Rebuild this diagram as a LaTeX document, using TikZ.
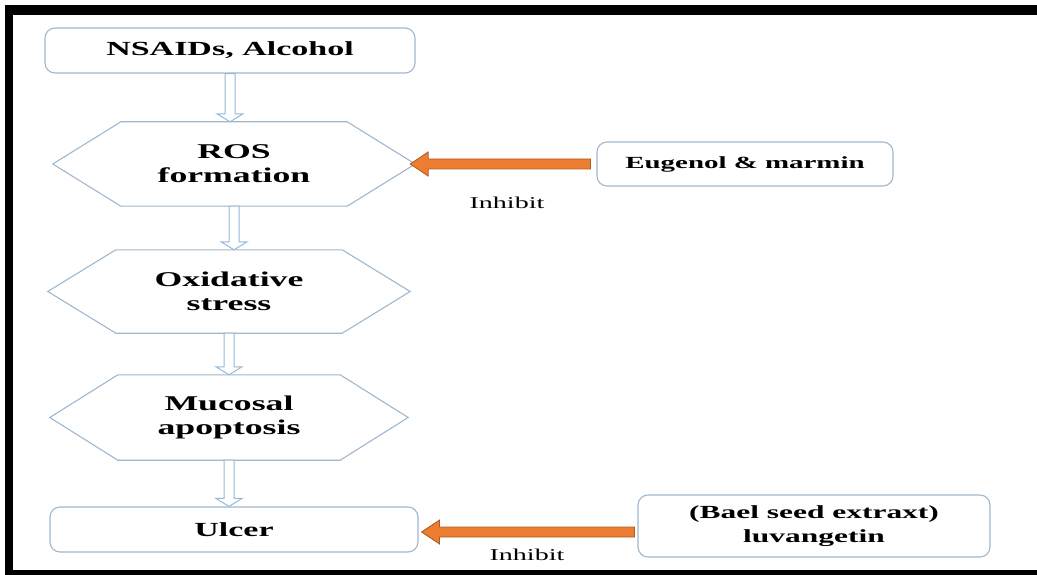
\documentclass[tikz,border=0pt]{standalone}
\usepackage{fontspec}
\setmainfont{Liberation Serif}[FakeStretch=1.7]
\usetikzlibrary{calc}
\definecolor{boxline}{RGB}{160,184,206}
\definecolor{flowline}{RGB}{150,185,215}
\definecolor{inhibitfill}{RGB}{237,125,49}
\definecolor{inhibitline}{RGB}{175,90,35}
\tikzset{
  roundbox/.style={draw=boxline, line width=1.1pt, rounded corners=10pt, fill=white,
    align=center, font=\fontsize{20}{25}\selectfont\bfseries, inner sep=0pt},
  hexbox/.style={align=center, font=\fontsize{21}{24}\selectfont\bfseries, inner sep=0pt},
  hexline/.style={draw=boxline, line width=1.1pt, fill=white},
  flowarrow/.style={draw=flowline, line width=1pt, fill=white, line join=miter},
  inhibitarrow/.style={draw=inhibitline, line width=0.8pt, fill=inhibitfill},
  inhibitlabel/.style={font=\fontsize{16.5}{20}\selectfont, inner sep=0pt},
  frame/.style={fill=black}
}
% hexagon outline around a node: #1 node, #2 horizontal inset of the slanted sides
\newcommand\hexaround[2]{%
  \path[hexline] (#1.west) -- ($(#1.north west)+(#2,0)$) -- ($(#1.north east)-(#2,0)$)
    -- (#1.east) -- ($(#1.south east)-(#2,0)$) -- ($(#1.south west)+(#2,0)$) -- cycle;}
% hollow downward block arrow from the bottom of #1 to the top of #2
\newcommand\flowdown[2]{%
  \path let \p1=(#1.south), \p2=(#2.north) in
    [flowarrow] (\x1-5pt,\y1) -- (\x1-5pt,\y2+8pt) -- (\x1-13pt,\y2+8pt) -- (\x1,\y2)
    -- (\x1+13pt,\y2+8pt) -- (\x1+5pt,\y2+8pt) -- (\x1+5pt,\y1) -- cycle;}
% solid leftward block arrow from #1 to #2 (both at the same height)
\newcommand\inhibitleft[2]{%
  \path let \p1=(#1), \p2=(#2) in
    [inhibitarrow] (\x1,\y1+5pt) -- (\x2+18pt,\y1+5pt) -- (\x2+18pt,\y1+12pt) -- (\x2,\y1)
    -- (\x2+18pt,\y1-12pt) -- (\x2+18pt,\y1-5pt) -- (\x1,\y1-5pt) -- cycle;}
\begin{document}
\begin{tikzpicture}[x=1pt,y=-1pt]
  \useasboundingbox (0,0) rectangle (1037,575);
  % black frame
  \fill[frame] (5,5) rectangle (1037,15);
  \fill[frame] (5,5) rectangle (13,575);
  \fill[frame] (5,570) rectangle (1037,575);

  % main chain
  \node[roundbox, minimum width=370pt, minimum height=45pt] (nsaid) at (230,50.5) {NSAIDs, Alcohol};
  \node[hexbox, minimum width=362pt, minimum height=84pt] (ros) at (234,164) {};
  \hexaround{ros}{68pt}
  \node[hexbox] (rostext) at (ros.center) {ROS\\formation};
  \node[hexbox, minimum width=362pt, minimum height=83pt] (ox) at (229,291.5) {};
  \hexaround{ox}{68pt}
  \node[hexbox] (oxtext) at (ox.center) {Oxidative\\stress};
  \node[hexbox, minimum width=358pt, minimum height=85pt] (muc) at (229,417.5) {};
  \hexaround{muc}{68pt}
  \node[hexbox] (muctext) at (muc.center) {Mucosal\\apoptosis};
  \node[roundbox, minimum width=368pt, minimum height=45pt] (ulcer) at (234,529.5) {Ulcer};

  \flowdown{nsaid}{ros}
  \flowdown{ros}{ox}
  \flowdown{ox}{muc}
  \flowdown{muc}{ulcer}

  % inhibitors
  \node[roundbox, minimum width=296pt, minimum height=44pt,
        font=\fontsize{17}{22}\selectfont\bfseries] (eug) at (745,164) {Eugenol \& marmin};
  \node[roundbox, minimum width=352pt, minimum height=62pt,
        font=\fontsize{18.5}{24}\selectfont\bfseries] (bael) at (814,526) {(Bael seed extraxt)\\luvangetin};

  \coordinate (eugtail) at ($(eug.west)+(-6,0)$);
  \coordinate (rostip) at ($(ros.east)+(-5,0)$);
  \inhibitleft{eugtail}{rostip}
  \coordinate (baeltail) at ($(bael.west)+(-3,6)$);
  \coordinate (ulcertip) at ($(ulcer.east)+(3,2.5)$);
  \inhibitleft{baeltail}{ulcertip}

  \node[inhibitlabel] (inh1) at (507,203) {Inhibit};
  \node[inhibitlabel] (inh2) at (527,555) {Inhibit};
\end{tikzpicture}
\end{document}
